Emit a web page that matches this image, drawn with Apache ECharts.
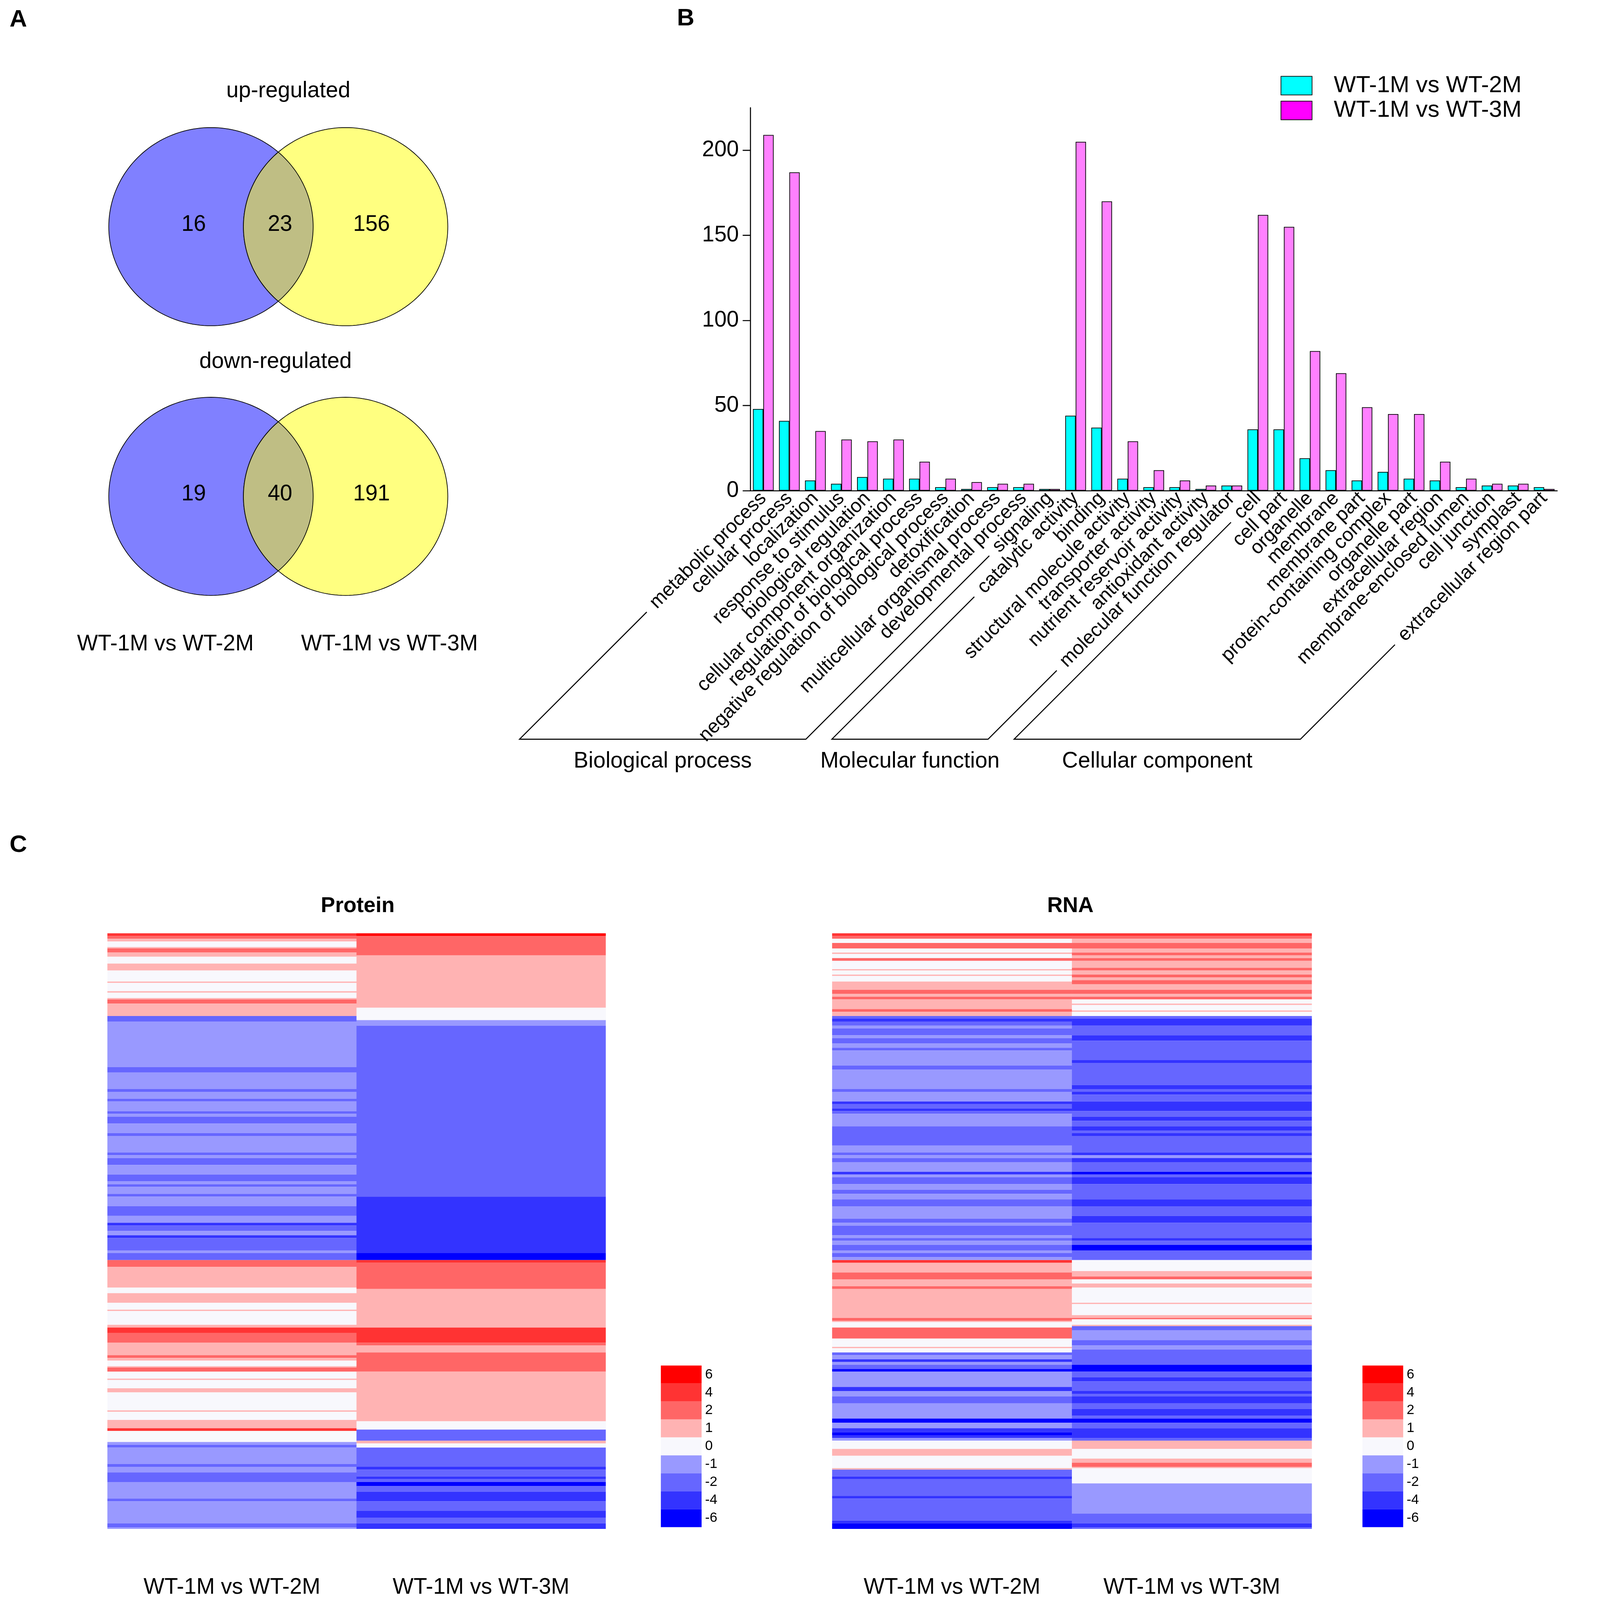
<!DOCTYPE html>
<html>
<head>
<meta charset="utf-8">
<script src="https://cdn.jsdelivr.net/npm/echarts@6/dist/echarts.min.js"></script>
<style>
  html, body { margin: 0; background: #fff; overflow: hidden; }
  #main { width: 4522px; height: 4634px; transform-origin: 0 0; }
</style>
</head>
<body>
<div id="main"></div>
<script>
// ---------- A: Venn counts ----------
var vennRows = ['up-regulated', 'down-regulated'];
var vennOnly2M = [16, 19];
var vennShared = [23, 40];
var vennOnly3M = [156, 191];
var compareNames = ['WT-1M vs WT-2M', 'WT-1M vs WT-3M'];

// ---------- B: GO classification ----------
var goTerms = ['metabolic process', 'cellular process', 'localization', 'response to stimulus',
  'biological regulation', 'cellular component organization', 'regulation of biological process',
  'negative regulation of biological process', 'detoxification', 'multicellular organismal process',
  'developmental process', 'signaling', 'catalytic activity', 'binding', 'structural molecule activity',
  'transporter activity', 'nutrient reservoir activity', 'antioxidant activity',
  'molecular function regulator', 'cell', 'cell part', 'organelle', 'membrane', 'membrane part',
  'protein-containing complex', 'organelle part', 'extracellular region', 'membrane-enclosed lumen',
  'cell junction', 'symplast', 'extracellular region part'];
var goVs2M = [48, 41, 6, 4, 8, 7, 7, 2, 1, 2, 2, 1, 44, 37, 7, 2, 2, 1, 3, 36, 36, 19, 12, 6, 11, 7, 6, 2, 3, 3, 2];
var goVs3M = [209, 187, 35, 30, 29, 30, 17, 7, 5, 4, 4, 1, 205, 170, 29, 12, 6, 3, 3, 162, 155, 82, 69, 49, 45, 45, 17, 7, 4, 4, 1];
var goGroups = [['Biological process', 0, 11], ['Molecular function', 12, 18], ['Cellular component', 19, 30]];
var yTicks = [0, 50, 100, 150, 200];

// ---------- C: heatmaps, [level, end row] runs read top to bottom ----------
var heatRowCount = 432;
var proteinVs2M = [[4,2],[2,4],[1,6],[0,10],[1,11],[2,14],[1,17],[0,22],[1,27],[0,35],[1,36],[0,42],[1,43],[0,47],[1,48],[2,51],[1,60],[-2,64],[-1,97],[-2,101],[-1,113],[-2,115],[-1,120],[-2,122],[-1,129],[-2,131],[-1,133],[-2,138],[-1,145],[-2,147],[-1,159],[-2,161],[-1,163],[-2,168],[-1,175],[-2,180],[-1,182],[-2,184],[-1,189],[-2,191],[-1,198],[-2,205],[-1,210],[-4,212],[-2,216],[-1,219],[-4,221],[-2,230],[-1,232],[-2,237],[2,242],[1,257],[0,261],[1,268],[0,273],[1,274],[0,284],[1,286],[4,290],[2,297],[1,306],[2,308],[1,310],[0,314],[1,315],[2,318],[0,323],[1,324],[0,330],[1,333],[0,346],[1,347],[0,353],[1,359],[4,361],[0,369],[-1,371],[-2,373],[-1,385],[-2,387],[-1,391],[-2,398],[-1,410],[-2,412],[-1,428],[-2,431],[-1,432]];
var proteinVs3M = [[6,2],[2,16],[1,54],[0,63],[-1,67],[-2,191],[-4,232],[-6,237],[4,239],[2,258],[1,286],[4,297],[2,299],[1,304],[2,318],[1,354],[0,360],[-2,368],[1,370],[0,373],[-2,387],[-4,389],[-2,394],[-4,396],[-2,398],[-6,401],[-2,405],[-4,412],[-2,419],[-4,424],[-2,428],[-4,432]];
var rnaVs2M = [[4,2],[2,4],[0,7],[2,11],[0,14],[1,15],[0,18],[2,20],[0,26],[1,27],[0,30],[1,31],[0,35],[1,41],[2,44],[1,46],[2,48],[1,55],[2,57],[1,60],[-2,62],[-4,64],[-2,67],[-1,69],[-2,74],[-1,76],[-2,80],[-1,83],[-2,85],[-1,96],[-2,99],[-1,113],[-2,115],[-1,122],[-4,124],[-2,127],[-4,129],[-2,131],[-1,140],[-2,154],[-1,159],[-2,161],[-1,163],[-2,166],[-1,173],[-4,175],[-1,177],[-2,182],[-1,186],[-2,189],[-1,193],[-2,198],[-1,207],[-2,210],[-1,212],[-2,219],[-1,221],[-2,223],[-1,226],[-2,230],[-1,232],[-2,235],[-1,237],[4,239],[1,246],[2,251],[1,256],[2,258],[1,279],[2,281],[1,282],[0,286],[2,294],[0,300],[1,301],[0,304],[-2,306],[-1,309],[-4,311],[-1,313],[-2,316],[-6,318],[-1,329],[-4,332],[-1,336],[-2,341],[-1,352],[-6,355],[-1,359],[-4,362],[-6,364],[-4,366],[-1,368],[0,374],[1,379],[0,388],[1,389],[-2,394],[-4,396],[-2,408],[-4,410],[-2,426],[-4,428],[-6,432]];
var rnaVs3M = [[4,2],[2,4],[1,7],[2,11],[1,14],[2,16],[1,18],[2,20],[1,25],[2,27],[1,30],[2,32],[1,34],[2,37],[1,41],[2,44],[1,46],[2,48],[0,51],[1,52],[0,56],[1,57],[0,60],[-2,62],[-4,67],[-2,74],[-4,78],[-2,92],[-4,94],[-2,110],[-4,113],[-2,115],[-4,117],[-2,122],[-4,129],[-2,133],[-4,136],[-2,140],[-4,143],[-2,145],[-4,147],[-2,159],[-4,161],[-1,163],[-4,166],[-2,173],[-6,175],[-2,177],[-4,182],[-2,193],[-4,198],[-2,205],[-4,210],[-2,221],[-4,223],[-2,226],[-6,230],[-2,237],[0,245],[1,249],[2,251],[0,254],[1,257],[0,268],[1,269],[0,277],[1,279],[2,280],[0,284],[1,285],[-2,288],[-1,295],[-2,299],[-1,302],[-2,313],[-6,318],[-2,322],[-4,325],[-2,332],[-4,334],[-2,336],[-4,341],[-2,345],[-4,350],[-2,352],[-6,355],[-2,359],[-4,366],[-2,368],[1,374],[0,381],[1,384],[2,387],[1,388],[0,399],[-1,421],[-2,428],[-4,431],[-2,432]];
var heatLevels = [-6, -4, -2, -1, 0, 1, 2, 4, 6];
var heatColors = ['#0000FF', '#3333FF', '#6666FF', '#9999FF', '#F8F8FD', '#FFB3B3', '#FF6666', '#FF3333', '#FF0000'];

var FONT = '"Liberation Sans", Arial, sans-serif';
var W = 4522, H = 4634;

// runs -> [column, first row, end row, level]
function runItems(runs, col) {
  var items = [], start = 0;
  runs.forEach(function (r) {
    items.push([col, start, r[1], r[0]]);
    start = r[1];
  });
  return items;
}
var rowIds = [];
for (var i = 0; i < heatRowCount; i++) rowIds.push(String(i));

function renderRuns(params, api) {
  var col = api.value(0), start = api.value(1), end = api.value(2);
  var a = api.coord([col, start]), b = api.coord([col, end - 1]);
  var size = api.size([1, 1]);
  var y0 = a[1] - size[1] / 2, y1 = b[1] + size[1] / 2;
  return {
    type: 'rect',
    shape: { x: a[0] - size[0] / 2, y: y0, width: size[0] + 0.5, height: y1 - y0 },
    style: { fill: api.visual('color') }
  };
}

var pieces = heatLevels.map(function (v, i) {
  return { value: v, label: String(v), color: heatColors[i] };
});

// ellipse / lens outlines for the venn
function ellipsePts(cx, cy, rx, ry) {
  var pts = [];
  for (var k = 0; k < 180; k++) {
    var t = k / 180 * Math.PI * 2;
    pts.push([cx + rx * Math.cos(t), cy + ry * Math.sin(t)]);
  }
  return pts;
}
function lensPts(cxL, cxR, cy, rx, ry) {
  var half = (cxR - cxL) / 2, t0 = Math.acos(half / rx), pts = [], k, t;
  for (k = 0; k <= 60; k++) {
    t = -t0 + 2 * t0 * k / 60;
    pts.push([cxL + rx * Math.cos(t), cy + ry * Math.sin(t)]);
  }
  for (k = 0; k <= 60; k++) {
    t = -t0 + 2 * t0 * k / 60;
    pts.push([cxR - rx * Math.cos(t), cy - ry * Math.sin(t)]);
  }
  return pts;
}

function renderVenn(params, api) {
  var c = api.coord([api.value(0), api.value(1)]);
  var rx = 296, ry = 287, half = 195;
  var txt = function (v, x) {
    return { type: 'text', style: { text: String(v), x: x, y: c[1] - 6, align: 'center', verticalAlign: 'middle',
      textAlign: 'center', textVerticalAlign: 'middle', fontSize: 64, fontFamily: FONT, fill: '#000' } };
  };
  return {
    type: 'group',
    children: [
      { type: 'polygon', shape: { points: ellipsePts(c[0] - half, c[1], rx, ry) }, style: { fill: '#8080FF', stroke: '#000', lineWidth: 2 } },
      { type: 'polygon', shape: { points: ellipsePts(c[0] + half, c[1], rx, ry) }, style: { fill: '#FFFF80', stroke: '#000', lineWidth: 2 } },
      { type: 'polygon', shape: { points: lensPts(c[0] - half, c[0] + half, c[1], rx, ry) }, style: { fill: '#BFBE84', stroke: '#000', lineWidth: 2 } },
      txt(api.value(2), c[0] - 245),
      txt(api.value(3), c[0] + 5),
      txt(api.value(4), c[0] + 270)
    ]
  };
}

var vennData = vennRows.map(function (r, i) {
  return [0, i, vennOnly2M[i], vennShared[i], vennOnly3M[i]];
});

// the page may be narrower than the picture: shrink the whole figure to fit
var dom = document.getElementById('main');
var fit = Math.min(1, window.innerWidth / W, window.innerHeight / H);
dom.style.transform = 'scale(' + fit + ')';
var chart = echarts.init(dom, null, {
  width: W, height: H, devicePixelRatio: (window.devicePixelRatio || 1) * fit
});

function heatLegend(seriesIndex, left) {
  return {
    type: 'piecewise', seriesIndex: seriesIndex, dimension: 3, pieces: pieces,
    orient: 'vertical', align: 'left', left: left, top: 3955, padding: 0,
    itemWidth: 118, itemHeight: 52, itemGap: 0, itemSymbol: 'rect', textGap: 10,
    selectedMode: false, textStyle: { fontSize: 40, color: '#000' }
  };
}

var option = {
  backgroundColor: '#fff',
  animation: false,
  textStyle: { fontFamily: FONT, color: '#000' },
  grid: [
    { left: 2173, top: 312, width: 2337, height: 1109 },
    { left: 311, top: 2703, width: 1443, height: 1725 },
    { left: 2410, top: 2703, width: 1389, height: 1725 },
    { left: 406, top: 266, width: 800, height: 1562 }
  ],
  legend: {
    orient: 'vertical', left: 3704, top: 209,
    itemWidth: 90, itemHeight: 54, itemGap: 4, icon: 'rect',
    selectedMode: false,
    itemStyle: { borderColor: '#000', borderWidth: 2 },
    textStyle: { fontSize: 68, lineHeight: 54, color: '#000', padding: [0, 0, 0, 58] },
    data: [
      { name: compareNames[0], itemStyle: { color: '#00FFFF' } },
      { name: compareNames[1], itemStyle: { color: '#FF00FF' } }
    ]
  },
  xAxis: [
    {
      gridIndex: 0, type: 'category', data: goTerms,
      axisLine: { lineStyle: { color: '#000', width: 3 } },
      axisTick: { show: false },
      axisLabel: { interval: 0, rotate: 45, fontSize: 56, margin: 14, color: '#000' }
    },
    {
      gridIndex: 1, type: 'category', data: compareNames,
      axisLine: { show: false }, axisTick: { show: false },
      axisLabel: { fontSize: 64, margin: 138, color: '#000' }
    },
    {
      gridIndex: 2, type: 'category', data: compareNames,
      axisLine: { show: false }, axisTick: { show: false },
      axisLabel: { fontSize: 64, margin: 138, color: '#000' }
    },
    { gridIndex: 3, type: 'category', data: ['venn'], show: false }
  ],
  yAxis: [
    {
      gridIndex: 0, type: 'value', min: 0, max: 225,
      axisLine: { show: true, lineStyle: { color: '#000', width: 3 } },
      axisTick: { show: true, length: 22, lineStyle: { width: 3, color: '#000' }, customValues: yTicks },
      axisLabel: { fontSize: 64, margin: 33, color: '#000', customValues: yTicks },
      splitLine: { show: false }
    },
    { gridIndex: 1, type: 'category', data: rowIds, inverse: true, show: false },
    { gridIndex: 2, type: 'category', data: rowIds, inverse: true, show: false },
    { gridIndex: 3, type: 'category', data: vennRows, inverse: true, show: false }
  ],
  visualMap: [heatLegend(2, 1914), heatLegend(3, 3946)],
  series: [
    {
      type: 'bar', name: compareNames[0], xAxisIndex: 0, yAxisIndex: 0, data: goVs2M,
      barWidth: 30, barGap: '0%',
      itemStyle: { color: '#00FFFF', borderColor: '#000', borderWidth: 2 }
    },
    {
      type: 'bar', name: compareNames[1], xAxisIndex: 0, yAxisIndex: 0, data: goVs3M,
      barWidth: 30, barGap: '0%',
      itemStyle: { color: '#FF80FF', borderColor: '#000', borderWidth: 2 }
    },
    {
      type: 'custom', name: 'Protein', xAxisIndex: 1, yAxisIndex: 1, silent: true,
      data: runItems(proteinVs2M, 0).concat(runItems(proteinVs3M, 1)),
      renderItem: renderRuns, encode: { x: 0, y: 1 }
    },
    {
      type: 'custom', name: 'RNA', xAxisIndex: 2, yAxisIndex: 2, silent: true,
      data: runItems(rnaVs2M, 0).concat(runItems(rnaVs3M, 1)),
      renderItem: renderRuns, encode: { x: 0, y: 1 }
    },
    {
      type: 'custom', name: 'Venn', xAxisIndex: 3, yAxisIndex: 3, silent: true,
      data: vennData, renderItem: renderVenn
    }
  ]
};
chart.setOption(option);

// ---------- texts and GO group brackets ----------
function label(text, x, y, size, bold) {
  return {
    type: 'text', z: 10,
    style: { text: text, x: x, y: y, align: 'center', verticalAlign: 'middle',
      textAlign: 'center', textVerticalAlign: 'middle',
      fontSize: size, fontWeight: bold ? 'bold' : 'normal', fontFamily: FONT, fill: '#000' }
  };
}

var graphics = [
  label('A', 53, 58, 70, true),
  label('B', 1986, 54, 70, true),
  label('C', 53, 2448, 70, true),
  label(vennRows[0], 835, 264, 64),
  label(vennRows[1], 798, 1048, 64),
  label(compareNames[0], 479, 1866, 64),
  label(compareNames[1], 1128, 1866, 64),
  label('Protein', 1036, 2625, 62, true),
  label('RNA', 3100, 2625, 62, true)
];

var measure = document.createElement('canvas').getContext('2d');
measure.font = '56px ' + FONT;
var LABEL_MARGIN = 14, GAP = 26, DROP = 720, d = Math.SQRT1_2;

function bracketEnd(idx) {
  var p = chart.convertToPixel({ gridIndex: 0 }, [goTerms[idx], 0]);
  var ax = p[0], ay = p[1] + LABEL_MARGIN;
  var len = measure.measureText(goTerms[idx]).width + GAP;
  var top = [ax - len * d, ay + len * d];
  var bottomY = p[1] + DROP;
  var bottom = [ax - (bottomY - ay), bottomY];
  return { top: top, bottom: bottom };
}

goGroups.forEach(function (g) {
  var a = bracketEnd(g[1]), b = bracketEnd(g[2]);
  graphics.push({
    type: 'polyline', z: 10,
    shape: { points: [a.top, a.bottom, b.bottom, b.top] },
    style: { stroke: '#000', lineWidth: 3, fill: null }
  });
  graphics.push(label(g[0], (a.bottom[0] + b.bottom[0]) / 2, a.bottom[1] + 64, 64));
});

chart.setOption({ graphic: graphics });
</script>
</body>
</html>
